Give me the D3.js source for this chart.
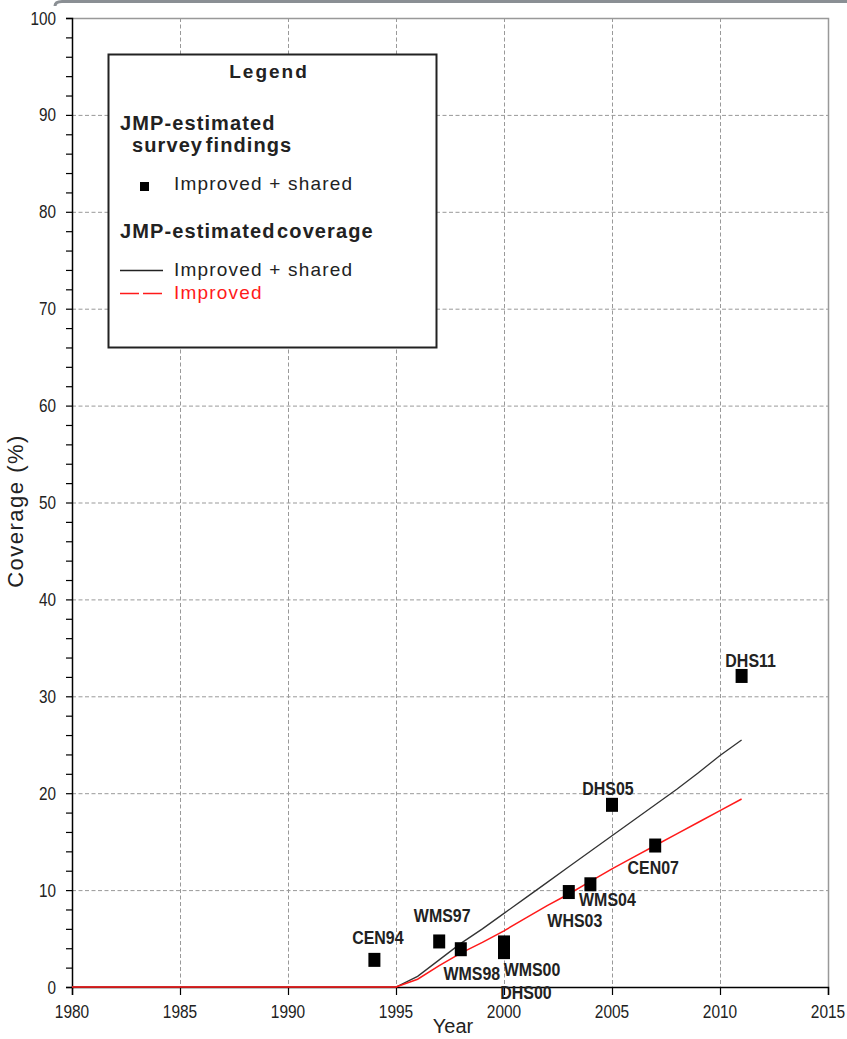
<!DOCTYPE html>
<html>
<head>
<meta charset="utf-8">
<script src="https://cdn.jsdelivr.net/npm/d3@7/dist/d3.min.js"></script>
<style>
  html, body { margin: 0; padding: 0; background: #fff; }
  svg { display: block; }
  text { font-family: "Liberation Sans", Arial, sans-serif; fill: #222; }
</style>
</head>
<body>
<svg id="chart" width="847" height="1039"></svg>
<script>
// Modelled coverage, by year
const years = [1980, 1981, 1982, 1983, 1984, 1985, 1986, 1987, 1988, 1989,
               1990, 1991, 1992, 1993, 1994, 1995, 1996, 1997, 1998, 1999,
               2000, 2001, 2002, 2003, 2004, 2005, 2006, 2007, 2008, 2009,
               2010, 2011];
const improvedShared = [0, 0, 0, 0, 0, 0, 0, 0, 0, 0,
                        0, 0, 0, 0, 0, 0, 1.1, 2.8, 4.5, 6.0,
                        7.6, 9.2, 10.8, 12.4, 14.0, 15.6, 17.2, 18.8, 20.4, 22.1,
                        23.9, 25.5];
const improved = [0, 0, 0, 0, 0, 0, 0, 0, 0, 0,
                  0, 0, 0, 0, 0, 0, 0.8, 2.2, 3.5, 4.6,
                  5.8, 7.1, 8.4, 9.6, 10.9, 12.2, 13.4, 14.6, 15.8, 17.0,
                  18.2, 19.4];

// Survey findings (improved + shared)
const surveyCodes = ["CEN94", "WMS97", "WMS98", "WMS00", "DHS00", "WHS03", "WMS04", "DHS05", "CEN07", "DHS11"];
const surveyYears = [1994, 1997, 1998, 2000, 2000, 2003, 2004, 2005, 2007, 2011];
const surveyValues = [2.8, 4.7, 3.9, 4.6, 3.6, 9.8, 10.6, 18.8, 14.6, 32.1];

// Axis ticks
const xTicks = [1980, 1985, 1990, 1995, 2000, 2005, 2010, 2015];
const yTicks = [0, 10, 20, 30, 40, 50, 60, 70, 80, 90, 100];
const yMinorTicks = d3.range(0, 101, 2);

// Where each survey label's baseline centre sits relative to its marker
const labelPlacement = {
  CEN94: [3.5, -16], WMS97: [3, -19.5], WMS98: [11, 31], WMS00: [28, 34], DHS00: [22, 47],
  WHS03: [6, 35], WMS04: [17, 22], DHS05: [-4, -10], CEN07: [-2, 28.5], DHS11: [9, -9]
};

const svg = d3.select("#chart");
const margin = { left: 72, right: 19, top: 18, bottom: 52 };
const W = 847, H = 1039;

const x = d3.scaleLinear().domain([1980, 2015]).range([margin.left, W - margin.right]);
const y = d3.scaleLinear().domain([0, 100]).range([H - margin.bottom, margin.top]);

// Condensed text: drawn at (px, py) and squeezed horizontally
function narrowText(g, px, py, str, size, sx, opts = {}) {
  const t = g.append("text")
    .attr("transform", `translate(${px},${py}) scale(${sx},1)`)
    .attr("font-size", size)
    .attr("text-anchor", opts.anchor || "middle")
    .text(str);
  if (opts.bold) t.attr("font-weight", "bold");
  return t;
}

// Frame edge along the top of the page
svg.append("path")
  .attr("d", `M55,6 Q55,1.5 62,1.5 L847,1.5`)
  .attr("fill", "none").attr("stroke", "#8a8f94").attr("stroke-width", 3);

// Gridlines
const grid = svg.append("g").attr("stroke", "#999").attr("stroke-dasharray", "4,2.5").attr("stroke-width", 1);
grid.selectAll("line.v").data(xTicks.slice(1, -1)).join("line")
  .attr("x1", d => x(d) + 0.5).attr("x2", d => x(d) + 0.5)
  .attr("y1", y(100)).attr("y2", y(0));
grid.selectAll("line.h").data(yTicks.slice(1, -1)).join("line")
  .attr("x1", x(1980)).attr("x2", x(2015))
  .attr("y1", d => y(d) + 0.5).attr("y2", d => y(d) + 0.5);

// Top and right border
svg.append("path")
  .attr("d", `M${x(1980)},${y(100) + 0.5} L${x(2015) + 0.5},${y(100) + 0.5} L${x(2015) + 0.5},${y(0)}`)
  .attr("fill", "none").attr("stroke", "#999").attr("stroke-width", 1.5);

// Y axis with minor ticks
const yAxisG = svg.append("g").attr("transform", `translate(${x(1980)},0)`);
yAxisG.call(d3.axisLeft(y).tickValues(yMinorTicks).tickSize(6).tickFormat(""))
  .call(g => g.select(".domain").attr("stroke", "#000").attr("stroke-width", 1.5))
  .call(g => g.selectAll(".tick line").attr("stroke", "#000").attr("stroke-width", 1.2));
yTicks.forEach(v => narrowText(yAxisG, -16, y(v) + 6.5, v, 18, 0.85, { anchor: "end" }));

// X axis
const xAxisG = svg.append("g").attr("transform", `translate(0,${y(0)})`);
xAxisG.call(d3.axisBottom(x).tickValues(xTicks).tickSize(8).tickFormat(""))
  .call(g => g.select(".domain").attr("stroke", "#000").attr("stroke-width", 1.5))
  .call(g => g.selectAll(".tick line").attr("stroke", "#000").attr("stroke-width", 1.2));
xTicks.forEach(v => narrowText(xAxisG, x(v), 31, v, 18, 0.86));

// Axis titles
svg.append("text")
  .attr("transform", `translate(23,${511}) rotate(-90)`)
  .attr("text-anchor", "middle")
  .attr("font-size", 22)
  .attr("letter-spacing", 1.5)
  .text("Coverage (%)");
svg.append("text")
  .attr("x", 453).attr("y", 1033)
  .attr("text-anchor", "middle")
  .attr("font-size", 20)
  .text("Year");

// Coverage lines
const line = vals => d3.line().x((d, i) => x(years[i])).y(d => y(d))(vals);
svg.append("path").attr("d", line(improvedShared))
  .attr("fill", "none").attr("stroke", "#333").attr("stroke-width", 1.3);
svg.append("path").attr("d", line(improved))
  .attr("fill", "none").attr("stroke", "#ff1a1a").attr("stroke-width", 1.5);

// Survey markers
const surveys = surveyCodes.map((c, i) => ({ code: c, year: surveyYears[i], value: surveyValues[i] }));
const sqW = 12, sqH = 14;
svg.append("g").selectAll("rect").data(surveys).join("rect")
  .attr("x", d => x(d.year) - sqW / 2).attr("y", d => y(d.value) - sqH / 2)
  .attr("width", sqW).attr("height", sqH)
  .attr("fill", "#000");

const labels = svg.append("g");
surveys.forEach(d => {
  const [dx, dy] = labelPlacement[d.code];
  narrowText(labels, x(d.year) + dx, y(d.value) + dy, d.code, 19, 0.84, { bold: true });
});

// Legend
const lg = svg.append("g");
lg.append("rect").attr("x", 108.5).attr("y", 54.5).attr("width", 328).attr("height", 293)
  .attr("fill", "#fff").attr("stroke", "#222").attr("stroke-width", 2);
lg.append("text").attr("x", 269).attr("y", 78)
  .attr("text-anchor", "middle").attr("font-size", 19).attr("font-weight", "bold")
  .attr("letter-spacing", 2).text("Legend");
lg.append("text").attr("x", 120).attr("y", 130)
  .attr("font-size", 20).attr("font-weight", "bold").attr("letter-spacing", 1.1).text("JMP-estimated");
lg.append("text").attr("x", 132).attr("y", 152)
  .attr("font-size", 20).attr("font-weight", "bold").attr("letter-spacing", 1.1)
  .attr("word-spacing", -4).text("survey findings");
lg.append("rect").attr("x", 140).attr("y", 182).attr("width", 9).attr("height", 9).attr("fill", "#000");
lg.append("text").attr("x", 174).attr("y", 190)
  .attr("font-size", 19).attr("letter-spacing", 1.2).text("Improved + shared");
lg.append("text").attr("x", 120).attr("y", 238)
  .attr("font-size", 20).attr("font-weight", "bold").attr("letter-spacing", 1.1)
  .attr("word-spacing", -5).text("JMP-estimated coverage");
lg.append("line").attr("x1", 120).attr("x2", 163).attr("y1", 270.5).attr("y2", 270.5)
  .attr("stroke", "#222").attr("stroke-width", 1.5);
lg.append("text").attr("x", 174).attr("y", 276)
  .attr("font-size", 19).attr("letter-spacing", 1.2).text("Improved + shared");
lg.append("line").attr("x1", 120).attr("x2", 163).attr("y1", 293.5).attr("y2", 293.5)
  .attr("stroke", "#ff1a1a").attr("stroke-width", 1.5).attr("stroke-dasharray", "19,4");
lg.append("text").attr("x", 174).attr("y", 299)
  .attr("font-size", 19).attr("letter-spacing", 1.2).style("fill", "#ff1a1a").text("Improved");
</script>
</body>
</html>
